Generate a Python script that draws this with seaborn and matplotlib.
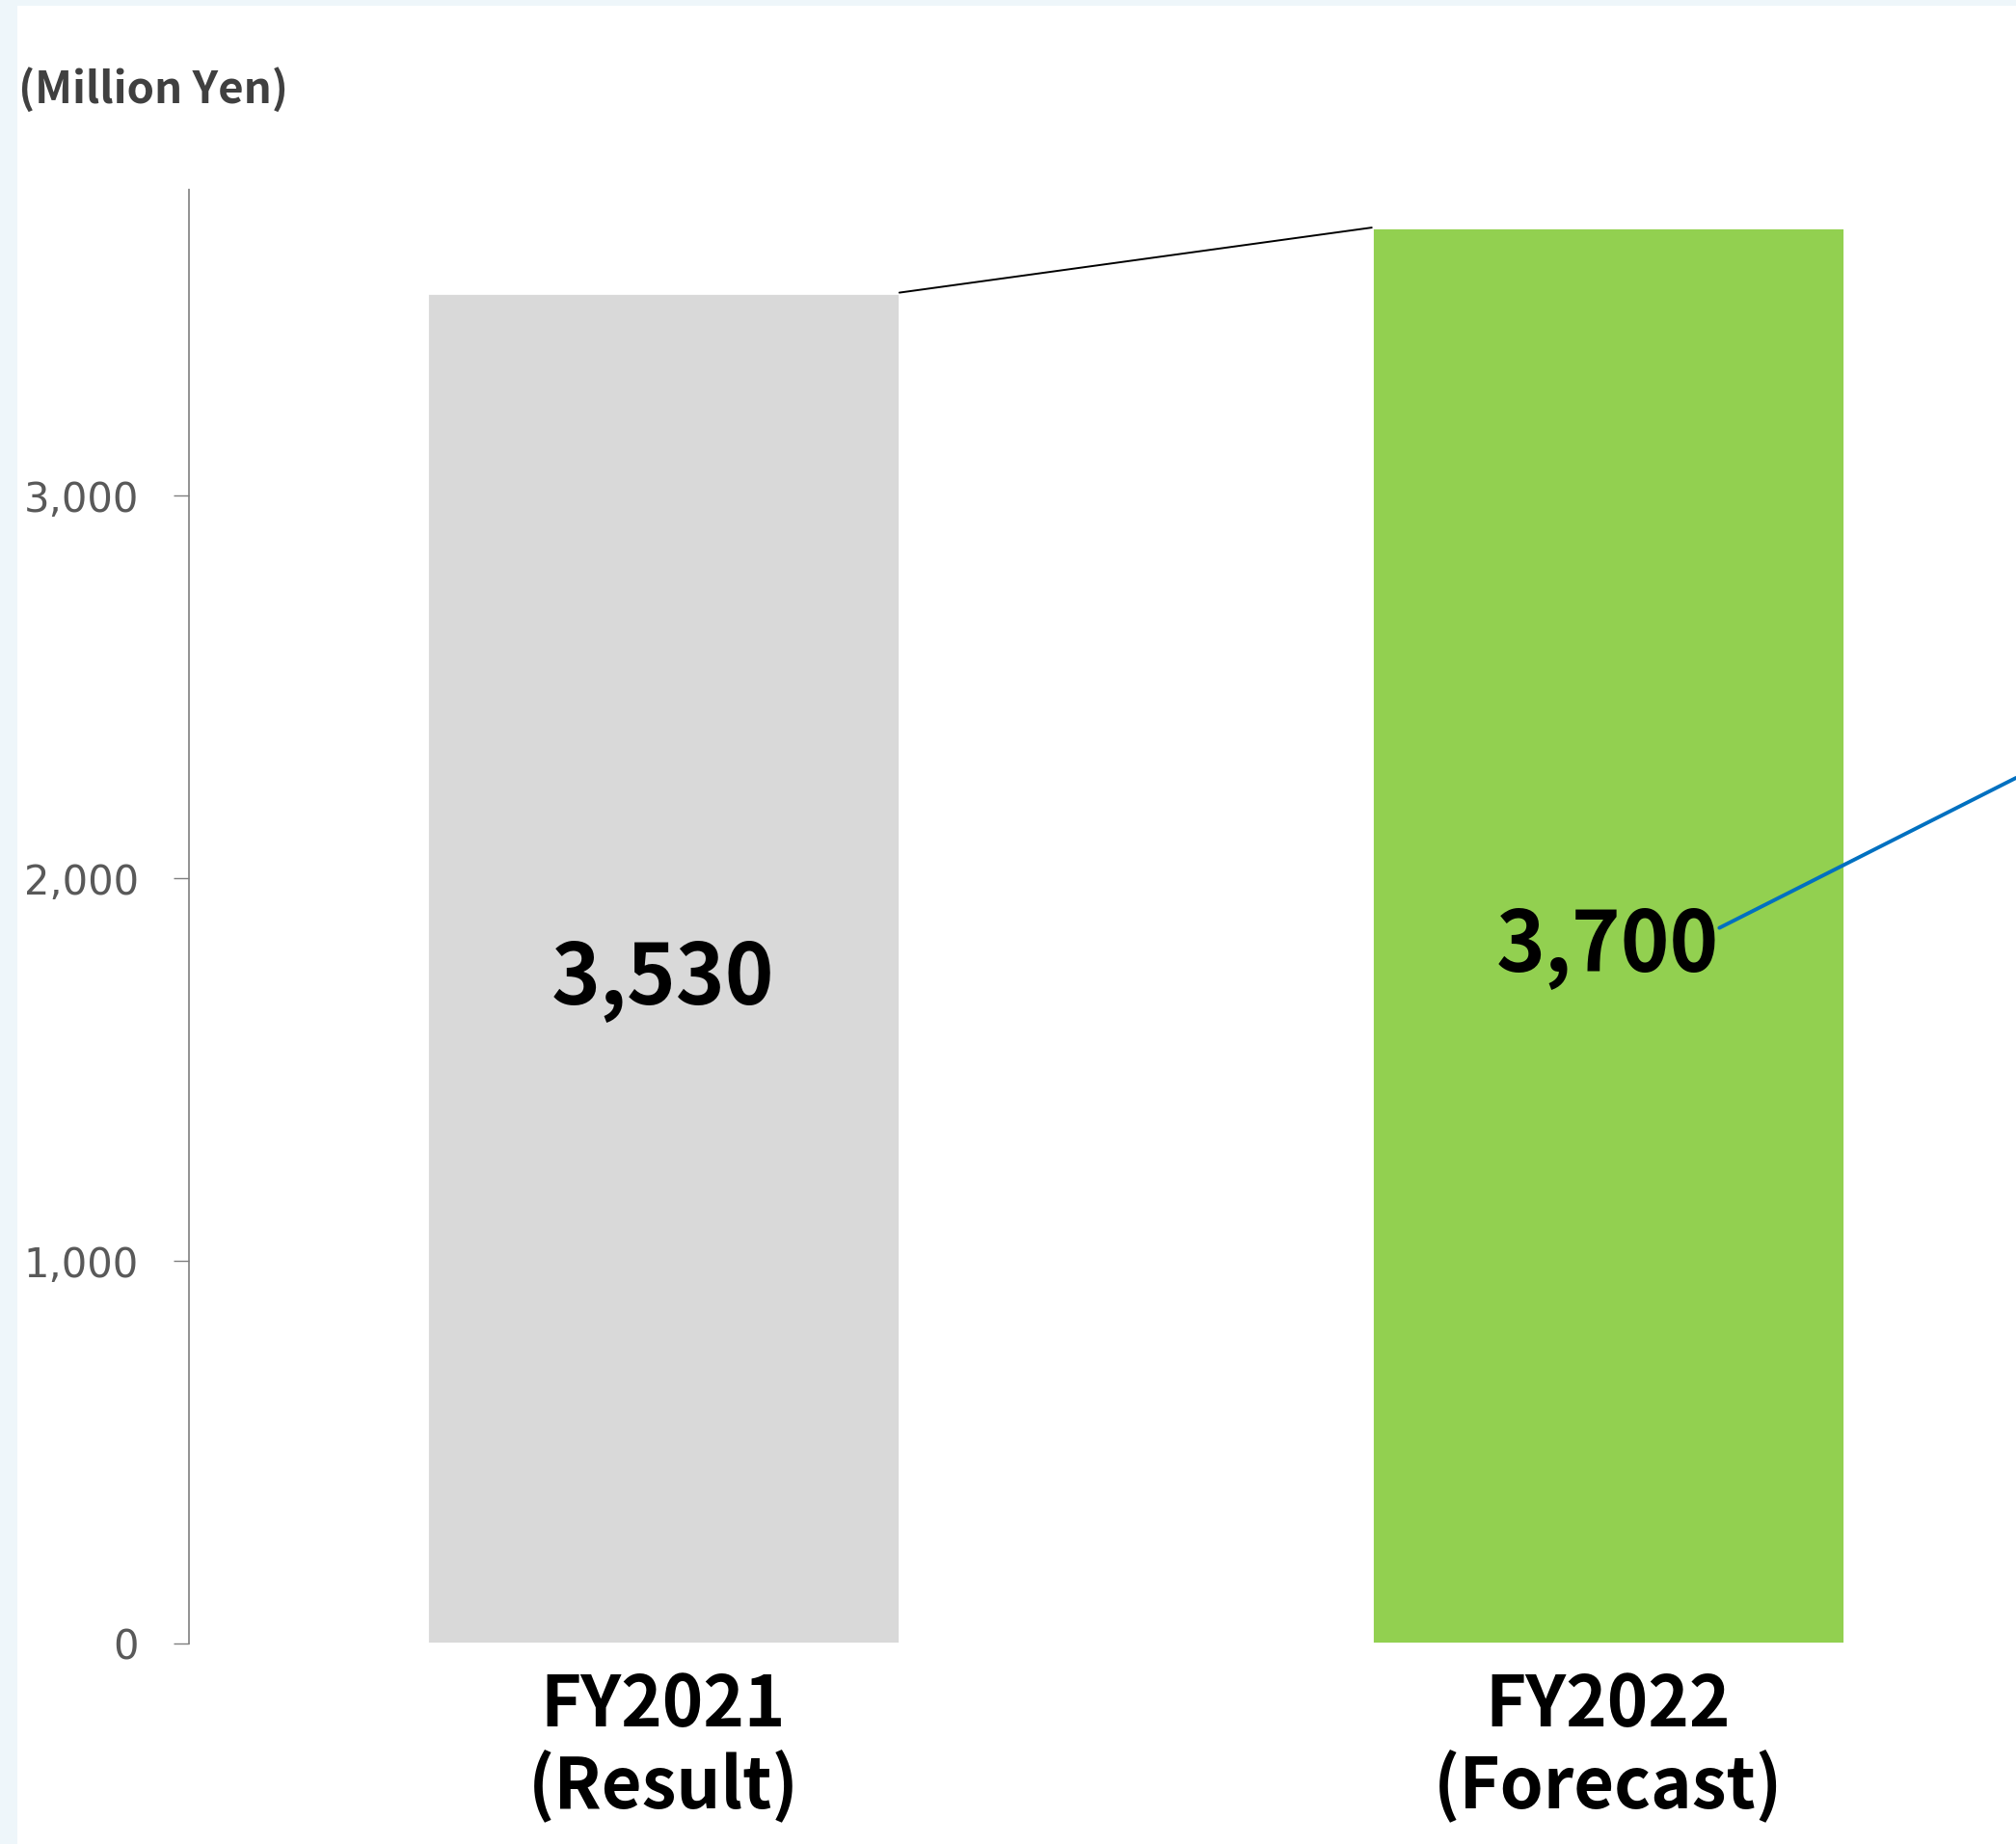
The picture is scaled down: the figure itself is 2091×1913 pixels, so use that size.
#!/usr/bin/env python
"""Sales forecast bar chart: FY2021 result vs FY2022 forecast (million yen)."""
import matplotlib
matplotlib.use("Agg")
import matplotlib.pyplot as plt
import numpy as np
import pandas as pd
import seaborn as sns
from matplotlib.patches import Rectangle

CATEGORIES = ["FY2021\n(Result)", "FY2022\n(Forecast)"]
VALUES = [3530, 3700]
BAR_COLORS = ["#D9D9D9", "#92D050"]
Y_TICKS = [0, 1000, 2000, 3000]
Y_TICK_LABELS = ["0", "1,000", "2,000", "3,000"]
UNIT_LABEL = "(Million Yen)"

sns.set_theme(style="white")
plt.rcParams["font.family"] = ["Noto Sans CJK JP", "DejaVu Sans"]

W, H, DPI = 2091, 1913, 200
fig = plt.figure(figsize=(W / DPI, H / DPI), dpi=DPI, facecolor="#EEF6FA")
# white panel, leaving the thin pale-blue frame on the left and top
fig.patches.append(Rectangle((18 / W, 0), 1 - 18 / W, (H - 6) / H,
                             transform=fig.transFigure, fc="white", ec="none", zorder=-10))

px_per_k = 397.0  # pixels per 1,000 yen on the y axis
y0_px = 1705
top_val = 3800
ax = fig.add_axes([196 / W, (H - y0_px) / H, 1 - 196 / W, top_val / 1000 * px_per_k / H])
ax.set_facecolor("none")
ax.set_zorder(2)

df = pd.DataFrame({"cat": CATEGORIES, "val": VALUES})
sns.barplot(data=df, x="cat", y="val", hue="cat", palette=BAR_COLORS,
            width=0.5, legend=False, saturation=1, ax=ax)

ax.set_xlim(-0.502, 1.432)
ax.set_ylim(0, top_val)

# value labels inside bars, sitting a touch below the bar middle
for cont in ax.containers:
    texts = ax.bar_label(cont, labels=[f"{v:,.0f}" for v in cont.datavalues],
                         label_type="center", fontsize=31, fontweight="bold", color="black")
    for t in texts:
        t.xyann = (0, -4)

# connector between the bar tops
p0, p1 = ax.patches[0], ax.patches[1]
ax.plot([p0.get_x() + p0.get_width(), p1.get_x()],
        [p0.get_height(), p1.get_height()], color="black", lw=0.7)

# blue leader line leaving the forecast label toward the right
ax.plot([1.118, 1.432], [1870, 2262], color="#0070C0", lw=1.4, clip_on=False)

# axes styling
for s in ["top", "right", "bottom"]:
    ax.spines[s].set_visible(False)
ax.spines["left"].set_color("#7F7F7F")
ax.spines["left"].set_linewidth(0.6)
ax.spines["left"].set_linestyle((0, (2, 1)))
ax.set_yticks(Y_TICKS)
ax.set_yticklabels(Y_TICK_LABELS, fontsize=15, color="#595959", family="DejaVu Sans")
ax.tick_params(axis="y", left=True, length=5.8, width=0.5, color="#7F7F7F",
               direction="out", pad=13)
ax.tick_params(axis="x", bottom=False, pad=4)
for lab in ax.get_xticklabels():
    lab.set_fontsize(26)
    lab.set_fontweight("bold")
    lab.set_color("black")
    lab.set_linespacing(1.15)
ax.set_xlabel("")
ax.set_ylabel("")

fig.text(19 / W, 1 - 93 / H, UNIT_LABEL, ha="left", va="center",
         fontsize=16.4, fontweight="bold", color="#404040")

fig.savefig("out.png", dpi=DPI, facecolor=fig.get_facecolor())
